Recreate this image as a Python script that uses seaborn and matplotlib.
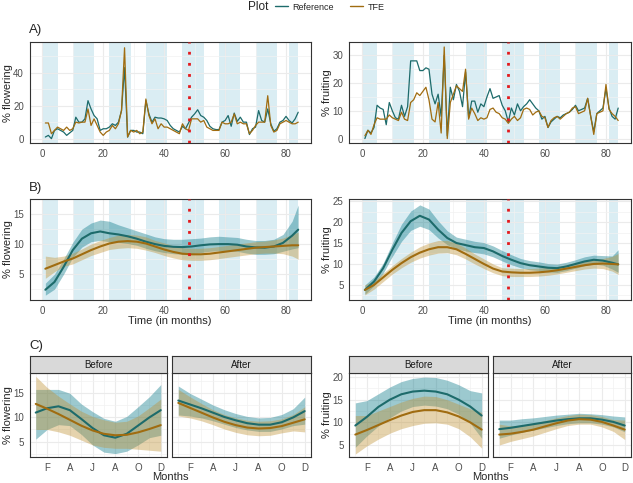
import numpy as np
import pandas as pd
import matplotlib
matplotlib.use("Agg")
import matplotlib.pyplot as plt
import seaborn as sns
from matplotlib.lines import Line2D

# ---- data ----
months = np.arange(1, 85)

flow_ref = [1, 2, 0, 5, 6, 5, 4, 2, 3.5, 5,
            13, 10, 10, 12, 23, 18, 14, 12, 5, 6,
            6, 7, 9, 8, 10, 17, 43, 1, 5, 5,
            4, 4, 3, 23, 15, 10, 13, 12.5, 12.5, 12,
            11, 8, 6, 5, 4, 7.5, 6, 9.5, 13, 15,
            17.5, 14, 13, 11, 7.5, 6, 5.5, 5.5, 10, 11,
            14, 7.5, 15.5, 10.5, 13, 10, 10, 2.5, 6, 7,
            17, 11, 10, 18, 9, 4.5, 6, 10, 11, 13.5,
            11, 9.5, 12, 16]
flow_tfe = [9.5, 9.5, 3, 5, 7, 6, 5, 7, 5, 6,
            10, 9.5, 10, 10, 18, 8, 12, 8, 4, 2,
            4, 5, 8, 6, 9, 17, 55, 1, 5, 4,
            5, 3, 4, 24, 14, 9, 12, 6, 9, 7,
            7, 6, 5, 4, 3, 9, 6, 5, 12, 12,
            12, 10, 11, 7, 6, 5, 5, 5, 10, 9,
            9, 10, 15, 9, 10, 9, 9, 3, 5, 8,
            10, 10, 10, 26, 8, 4, 5, 9, 10, 11,
            10, 9, 9, 10]
fruit_ref = [0, 3, 2, 4, 12, 11, 10.5, 5, 13, 10,
             7.5, 7, 12, 8, 11.5, 28, 28, 28, 24.5, 24.5,
             25.5, 25, 16, 12.5, 16, 8, 30, 1, 18.5, 14,
             19.5, 17, 11.5, 24, 7.5, 13.5, 13.5, 9.5, 12.5, 11.5,
             15, 18, 14.5, 15, 15.5, 12, 10, 6, 11, 8.5,
             12.5, 10, 11.5, 12.5, 14, 12.5, 11, 10, 7, 8,
             4, 6, 7, 8, 7.5, 8.5, 9, 9.5, 10.5, 12,
             10, 10.5, 11, 14.5, 8, 2.5, 9, 10, 11, 18,
             11, 8, 7, 11]
fruit_tfe = [1, 3, 1.5, 5, 7.5, 7, 7, 7, 8.5, 7.5,
             7, 6.5, 9.5, 7, 6.5, 13, 14, 16.5, 15.5, 17,
             18.5, 14, 7, 6, 13, 2, 33, 0, 13, 16,
             19, 18, 17, 25, 7, 11, 9, 6.5, 7.5, 7,
             7.5, 10.5, 11, 9.5, 9, 7.5, 7, 5.5, 7, 8,
             6.5, 7.5, 10.5, 11, 10.5, 8.5, 9.5, 10, 8, 7.5,
             4, 6.5, 7.5, 8, 7, 8, 9, 9.5, 11, 11.5,
             9, 9.5, 10, 14.5, 8, 1.5, 9, 9.5, 10, 19.5,
             10.5, 9, 8, 6.5]

# smoothed trends (panel B)
b_months = [1, 4, 7, 10, 13, 16, 19, 22, 25, 28, 31, 34, 37, 40, 43,
            46, 49, 52, 55, 58, 61, 64, 67, 70, 73, 76, 79, 82, 84]
bflow_ref = [2.4, 3.7, 6.2, 9.0, 10.9, 11.8, 12.1, 11.8, 11.6, 11.3, 10.9, 10.4, 10.0, 9.7, 9.55,
             9.5, 9.6, 9.8, 9.95, 10.0, 10.0, 9.9, 9.6, 9.45, 9.4, 9.6, 10.2, 11.4, 12.4]
bflow_ref_lo = [1.5, 2.5, 5.0, 7.8, 9.5, 10.4, 10.6, 10.4, 10.3, 10.1, 9.8, 9.3, 8.9, 8.6, 8.4,
                8.3, 8.4, 8.6, 8.8, 8.9, 8.9, 8.8, 8.5, 8.3, 8.3, 8.4, 8.8, 9.2, 9.4]
bflow_ref_hi = [3.5, 5.0, 7.5, 10.3, 12.5, 13.5, 14.0, 13.8, 13.2, 12.7, 12.2, 11.7, 11.2, 10.9, 10.8,
                10.8, 10.9, 11.0, 11.2, 11.3, 11.2, 11.1, 10.8, 10.6, 10.6, 10.8, 11.6, 13.8, 16.5]
bflow_tfe = [5.9, 6.5, 7.1, 7.6, 8.3, 9.0, 9.6, 10.1, 10.4, 10.5, 10.4, 10.1, 9.6, 9.1, 8.7,
             8.4, 8.3, 8.3, 8.4, 8.6, 8.8, 9.0, 9.2, 9.4, 9.5, 9.6, 9.7, 9.8, 9.8]
bflow_tfe_lo = [4.3, 5.4, 6.3, 6.7, 7.4, 8.1, 8.6, 9.1, 9.3, 9.4, 9.3, 9.0, 8.6, 8.1, 7.7,
                7.4, 7.3, 7.3, 7.4, 7.6, 7.8, 8.0, 8.2, 8.4, 8.5, 8.5, 8.4, 8.0, 7.5]
bflow_tfe_hi = [8.0, 7.8, 8.0, 8.5, 9.2, 10.0, 10.6, 11.1, 11.5, 11.6, 11.5, 11.2, 10.6, 10.2, 9.7,
                9.4, 9.3, 9.3, 9.4, 9.6, 9.8, 10.0, 10.2, 10.4, 10.5, 10.7, 11.0, 11.6, 12.0]

bfruit_ref = [3.8, 5.8, 9.0, 13.4, 17.4, 20.2, 21.5, 20.6, 18.2, 16.2, 15.0, 14.5, 14.0, 13.8, 13.0,
              11.9, 11.0, 10.2, 9.7, 9.4, 9.1, 9.0, 9.4, 10.0, 10.6, 11.0, 10.8, 10.3, 9.9]
bfruit_ref_lo = [2.8, 4.8, 7.8, 11.8, 15.4, 18.0, 19.0, 18.2, 16.2, 14.6, 13.6, 13.1, 12.7, 12.4, 11.7,
                 10.7, 9.8, 9.1, 8.6, 8.4, 8.1, 8.0, 8.4, 9.0, 9.6, 10.0, 9.7, 8.8, 8.0]
bfruit_ref_hi = [5.0, 6.9, 10.2, 15.0, 19.5, 22.6, 24.1, 23.1, 20.3, 17.9, 16.4, 15.9, 15.4, 15.1, 14.3,
                 13.2, 12.2, 11.3, 10.8, 10.5, 10.1, 10.0, 10.4, 11.0, 11.7, 12.1, 12.0, 11.9, 13.4]
bfruit_tfe = [3.8, 5.0, 6.8, 8.6, 10.2, 11.6, 12.7, 13.5, 14.0, 14.0, 13.5, 12.4, 11.2, 10.0, 8.9,
              8.2, 8.0, 7.9, 7.9, 8.0, 8.2, 8.5, 8.9, 9.3, 9.7, 10.0, 10.1, 10.0, 9.9]
bfruit_tfe_lo = [2.6, 4.0, 5.8, 7.6, 9.1, 10.4, 11.4, 12.1, 12.6, 12.7, 12.2, 11.2, 10.0, 8.9, 7.9,
                 7.2, 7.0, 7.0, 7.0, 7.1, 7.3, 7.6, 8.0, 8.4, 8.8, 9.0, 8.9, 8.3, 7.5]
bfruit_tfe_hi = [5.0, 6.0, 7.8, 9.6, 11.3, 12.8, 14.1, 15.0, 15.6, 15.6, 15.0, 13.8, 12.4, 11.2, 10.0,
                 9.1, 9.0, 8.9, 8.9, 9.0, 9.2, 9.4, 9.8, 10.2, 10.7, 11.0, 11.3, 11.8, 12.5]

# seasonal trends (panel C), months 1..12
c_months = np.arange(1, 13)
month_ticks = [2, 4, 6, 8, 10, 12]
month_labels = ["F", "A", "J", "A", "O", "D"]

cflow = {
    "Before": {
        "Reference": ([11.0, 11.9, 12.3, 11.5, 9.7, 7.8, 6.3, 5.8, 6.6, 8.3, 10.0, 11.5],
                      [5.5, 7.5, 8.5, 8.3, 6.5, 4.3, 2.8, 2.5, 3.0, 4.3, 5.8, 6.3],
                      [15.8, 15.8, 15.8, 15.0, 12.8, 11.2, 9.8, 9.2, 10.2, 12.2, 14.3, 16.8]),
        "TFE": ([12.8, 11.8, 10.7, 9.5, 8.3, 7.3, 6.6, 6.3, 6.4, 6.9, 7.6, 8.4],
                [7.5, 7.5, 7.0, 6.3, 5.3, 4.3, 3.8, 3.6, 3.6, 3.4, 3.2, 3.0],
                [18.5, 16.2, 14.4, 12.8, 11.3, 10.2, 9.5, 9.0, 9.2, 10.3, 12.0, 13.8]),
    },
    "After": {
        "Reference": ([13.5, 12.7, 11.9, 11.0, 10.1, 9.4, 8.8, 8.5, 8.5, 9.0, 10.0, 11.3],
                      [10.5, 10.3, 9.9, 9.3, 8.6, 7.9, 7.4, 7.1, 7.1, 7.6, 8.3, 8.6],
                      [16.5, 15.0, 13.8, 12.6, 11.6, 10.8, 10.2, 9.9, 10.0, 10.6, 11.8, 14.2]),
        "TFE": ([13.0, 12.0, 11.0, 10.0, 9.1, 8.4, 7.9, 7.7, 7.8, 8.2, 8.9, 9.6],
                [10.3, 9.9, 9.3, 8.5, 7.6, 6.9, 6.4, 6.2, 6.3, 6.8, 7.2, 7.0],
                [15.8, 14.3, 12.9, 11.6, 10.6, 9.9, 9.4, 9.2, 9.3, 9.7, 10.6, 12.2]),
    },
}
cfruit = {
    "Before": {
        "Reference": ([9.3, 11.2, 13.4, 15.0, 16.2, 16.8, 17.0, 16.8, 16.2, 15.0, 13.5, 11.5],
                      [4.5, 7.0, 9.2, 11.0, 12.5, 13.5, 13.8, 13.6, 13.0, 11.8, 9.8, 6.5],
                      [14.3, 14.8, 16.3, 17.8, 19.0, 19.7, 20.0, 19.9, 19.3, 18.3, 17.0, 16.5]),
        "TFE": ([7.3, 8.3, 9.4, 10.5, 11.5, 12.3, 12.7, 12.7, 12.2, 11.3, 10.0, 8.4],
                [3.0, 4.8, 6.3, 7.6, 8.6, 9.3, 9.8, 9.9, 9.6, 8.6, 6.8, 4.3],
                [11.5, 11.5, 12.5, 13.5, 14.5, 15.3, 15.8, 15.7, 15.0, 14.0, 13.0, 12.2]),
    },
    "After": {
        "Reference": ([8.5, 8.8, 9.2, 9.6, 10.0, 10.4, 10.7, 10.9, 10.9, 10.6, 10.1, 9.3],
                      [6.5, 7.2, 7.8, 8.3, 8.8, 9.3, 9.7, 9.9, 9.9, 9.6, 9.0, 7.9],
                      [10.5, 10.5, 10.8, 11.0, 11.3, 11.6, 11.8, 12.0, 11.9, 11.7, 11.4, 11.2]),
        "TFE": ([7.3, 7.5, 7.9, 8.4, 9.1, 9.8, 10.4, 10.7, 10.6, 10.1, 9.3, 8.4],
                [5.0, 5.8, 6.4, 7.0, 7.8, 8.6, 9.3, 9.6, 9.6, 9.0, 8.0, 6.2],
                [9.6, 9.2, 9.4, 9.8, 10.4, 11.0, 11.5, 11.8, 11.7, 11.3, 10.6, 10.5]),
    },
}

season_start = [0, 10, 22, 34, 46, 58, 70, 81]
season_end = [5, 17, 29, 41, 53, 65, 77, 84]
treatment_month = 48

# ---- style ----
ref_color = "#1d6b6b"
tfe_color = "#a06c10"
palette = {"Reference": ref_color, "TFE": tfe_color}
fill_colors = {"Reference": "#087889", "TFE": "#c09134"}
text_grey = "#4d4d4d"
frame_grey = "#333333"

sns.set_style("white")
plt.rcParams.update({
    "font.family": ["Liberation Sans", "DejaVu Sans"],
    "xtick.color": frame_grey,
    "ytick.color": frame_grey,
    "xtick.labelcolor": text_grey,
    "ytick.labelcolor": text_grey,
    "xtick.labelsize": 7,
    "ytick.labelsize": 7,
    "xtick.major.size": 2.5,
    "ytick.major.size": 2.5,
    "xtick.major.pad": 1.5,
    "ytick.major.pad": 1.5,
    "xtick.major.width": 0.6,
    "ytick.major.width": 0.6,
    "axes.labelsize": 8,
})

W, H = 633, 483
fig = plt.figure(figsize=(W / 100, H / 100), dpi=100)


def box(x0, y0, x1, y1):
    return [x0 / W, 1 - y1 / H, (x1 - x0) / W, (y1 - y0) / H]


def frame(ax, xlim, ylim, xmajor, xminor, ymajor, yminor):
    ax.set_xlim(*xlim)
    ax.set_ylim(*ylim)
    ax.set_xticks(xmajor)
    ax.set_xticks(xminor, minor=True)
    ax.set_yticks(ymajor)
    ax.set_yticks(yminor, minor=True)
    ax.tick_params(which="minor", length=0)
    ax.set_axisbelow(True)
    ax.grid(True, which="major", color="#ebebeb", lw=0.8)
    ax.grid(True, which="minor", color="#f2f2f2", lw=0.5)
    for s in ax.spines.values():
        s.set_color(frame_grey)
        s.set_linewidth(0.8)
    ax.set_xlabel("")
    ax.set_ylabel("")


def set_ylabel_px(ax, text, right_px, x0, x1):
    # the rotated label's right edge sits at right_px (figure pixels)
    ax.set_ylabel(text)
    ax.yaxis.set_label_coords((right_px - x0) / (x1 - x0), 0.5)


def long_df(x, ref, tfe):
    n = len(x)
    return pd.DataFrame({
        "month": np.concatenate([x, x]),
        "value": np.concatenate([ref, tfe]),
        "Plot": ["Reference"] * n + ["TFE"] * n,
    })


def seasons(ax):
    for a, b in zip(season_start, season_end):
        ax.axvspan(a, b, color="lightblue", alpha=0.45, lw=0, zorder=0.5)
    ax.axvline(treatment_month, color="#e3191c", lw=2, ls=(0, (1, 3)), zorder=5)


def ribbon_panel(ax, x, series, lw=1.5):
    for name in ["Reference", "TFE"]:
        mid, lo, hi = series[name]
        ax.fill_between(x, lo, hi, color=fill_colors[name], alpha=0.4, lw=0, zorder=1)
    df = long_df(x, series["Reference"][0], series["TFE"][0])
    sns.lineplot(data=df, x="month", y="value", hue="Plot", palette=palette,
                 ax=ax, legend=False, lw=lw, errorbar=None, zorder=3)


ab_xlim = (-4.2, 88.2)
ab_xmajor = [0, 20, 40, 60, 80]
ab_xminor = [10, 30, 50, 70]
LEFT = (29.5, 311)
RIGHT = (349, 631)
LEFT_LABEL = 13
RIGHT_LABEL = 332

# ---- row A: raw series ----
ax = fig.add_axes(box(LEFT[0], 42, LEFT[1], 143.3))
seasons(ax)
sns.lineplot(data=long_df(months, flow_ref, flow_tfe), x="month", y="value", hue="Plot",
             palette=palette, ax=ax, legend=False, lw=0.9, errorbar=None, zorder=3)
frame(ax, ab_xlim, (-2.8, 58.5), ab_xmajor, ab_xminor, [0, 20, 40], [10, 30, 50])
set_ylabel_px(ax, "% flowering", LEFT_LABEL, *LEFT)

ax = fig.add_axes(box(RIGHT[0], 42, RIGHT[1], 143.3))
seasons(ax)
sns.lineplot(data=long_df(months, fruit_ref, fruit_tfe), x="month", y="value", hue="Plot",
             palette=palette, ax=ax, legend=False, lw=0.9, errorbar=None, zorder=3)
frame(ax, ab_xlim, (-1.7, 34.8), ab_xmajor, ab_xminor, [0, 10, 20, 30], [5, 15, 25])
set_ylabel_px(ax, "% fruiting", RIGHT_LABEL, *RIGHT)

# ---- row B: smoothed trends ----
ax = fig.add_axes(box(LEFT[0], 199, LEFT[1], 300))
seasons(ax)
ribbon_panel(ax, b_months, {"Reference": (bflow_ref, bflow_ref_lo, bflow_ref_hi),
                            "TFE": (bflow_tfe, bflow_tfe_lo, bflow_tfe_hi)})
frame(ax, ab_xlim, (0.7, 17.3), ab_xmajor, ab_xminor, [5, 10, 15], [2.5, 7.5, 12.5, 17.5])
set_ylabel_px(ax, "% flowering", LEFT_LABEL, *LEFT)
ax.set_xlabel("Time (in months)")
ax.xaxis.set_label_coords(0.5, -0.16)

ax = fig.add_axes(box(RIGHT[0], 199, RIGHT[1], 300))
seasons(ax)
ribbon_panel(ax, b_months, {"Reference": (bfruit_ref, bfruit_ref_lo, bfruit_ref_hi),
                            "TFE": (bfruit_tfe, bfruit_tfe_lo, bfruit_tfe_hi)})
frame(ax, ab_xlim, (1.4, 25.5), ab_xmajor, ab_xminor, [5, 10, 15, 20, 25],
      [2.5, 7.5, 12.5, 17.5, 22.5])
set_ylabel_px(ax, "% fruiting", RIGHT_LABEL, *RIGHT)
ax.set_xlabel("Time (in months)")
ax.xaxis.set_label_coords(0.5, -0.16)

# ---- row C: seasonal trends, faceted before / after ----
c_panels = [
    (cflow, [(29.5, 167), (172, 311)], (1.8, 19.2), [5, 10, 15], [2.5, 7.5, 12.5, 17.5],
     "% flowering", LEFT_LABEL),
    (cfruit, [(349, 488), (493, 631)], (2.35, 20.9), [5, 10, 15, 20], [2.5, 7.5, 12.5, 17.5],
     "% fruiting", RIGHT_LABEL),
]
for data, spans, ylim, ymaj, ymin, ylab, label_px in c_panels:
    for i, period in enumerate(["Before", "After"]):
        x0, x1 = spans[i]
        ax = fig.add_axes(box(x0, 373, x1, 457))
        ribbon_panel(ax, c_months, data[period])
        frame(ax, (0.45, 12.55), ylim, month_ticks, [1, 3, 5, 7, 9, 11], ymaj, ymin)
        ax.set_xticklabels(month_labels)
        if i == 0:
            set_ylabel_px(ax, ylab, label_px, x0, x1)
        else:
            ax.tick_params(axis="y", left=False, labelleft=False)
        strip = fig.add_axes(box(x0, 356, x1, 373))
        strip.set_facecolor("#d9d9d9")
        strip.set_xticks([])
        strip.set_yticks([])
        for s in strip.spines.values():
            s.set_color(frame_grey)
            s.set_linewidth(0.8)
        strip.text(0.5, 0.5, period, ha="center", va="center", fontsize=7, color="#1a1a1a")
    fig.text(((spans[0][0] + spans[1][1]) / 2) / W, 1 - 477 / H, "Months",
             ha="center", va="center", fontsize=8)

# ---- panel tags and legend ----
fig.text(29 / W, 1 - 30 / H, "A)", fontsize=9.5, va="center")
fig.text(29 / W, 1 - 188 / H, "B)", fontsize=9.5, va="center")
fig.text(29 / W, 1 - 346 / H, "C)", fontsize=9.5, va="center")

fig.text(248 / W, 1 - 7 / H, "Plot", fontsize=8.5, va="center")
handles = [Line2D([], [], color=ref_color, lw=1), Line2D([], [], color=tfe_color, lw=1)]
fig.legend(handles, ["Reference", "TFE"], loc="center left",
           bbox_to_anchor=(275 / W, 1 - 7 / H), ncol=2, frameon=False, fontsize=6.5,
           handlelength=1.4, handletextpad=0.55, columnspacing=1.8,
           borderpad=0, borderaxespad=0)

fig.savefig("out.png", dpi=100)
